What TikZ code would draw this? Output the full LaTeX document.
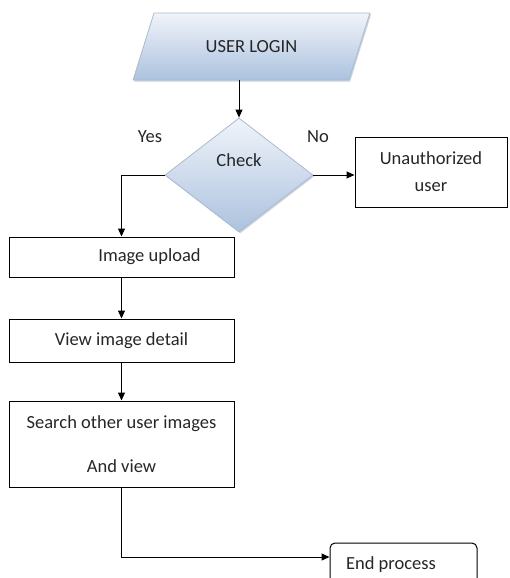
\documentclass[tikz,border=0pt]{standalone}
\usepackage{fontspec}
\setmainfont{Carlito}
\usepackage{tikz}
\usetikzlibrary{shapes.geometric, arrows.meta, shadows}

\definecolor{shadetop}{RGB}{240,244,250}
\definecolor{shadebottom}{RGB}{172,194,222}
\definecolor{shadeline}{RGB}{168,186,210}

\begin{document}
\begin{tikzpicture}[
	x=1pt, y=-1pt,
	font=\fontsize{18.5}{27}\selectfont,
	every node/.style={text=black!85, inner sep=0pt},
	shaded/.style={draw=shadeline, line width=0.8pt, top color=shadetop, bottom color=shadebottom,
		drop shadow={shadow xshift=1.2pt, shadow yshift=-1.5pt, opacity=0.35}},
	box/.style={draw, line width=1pt, minimum width=225pt, align=center},
	edge/.style={draw, line width=1pt, -{Triangle[length=8pt, width=7pt]}}
	]
	
	\clip (0,0) rectangle (510,578);
	
	% Define nodes
	\node (login) [shaded, trapezium, trapezium left angle=51, trapezium right angle=129, trapezium stretches=true,
		minimum width=237pt, minimum height=67pt] at (251.5,46.5) {USER LOGIN};
	\node (check) [shaded, diamond, minimum width=148pt, minimum height=114pt,
		label={[yshift=15pt]center:Check}] at (239,175) {};
	\node (yes) at (150,137) {Yes};
	\node (no) at (318,137) {No};
	\node (unauth) [box, minimum width=152pt, minimum height=70pt] at (431,172) {Unauthorized\\user};
	\node (upload) [box, minimum height=40pt] at (121.5,257) {\hspace*{56pt}Image upload};
	\node (detail) [box, minimum height=43pt] at (121.5,340.5) {View image detail};
	\node (search) [box, minimum height=86pt, font=\fontsize{18.5}{44}\selectfont] at (121.5,444) {Search other user images\\And view};
	\node (endp) [draw, line width=1pt, rounded corners=5pt, minimum width=147pt, minimum height=43pt] at (403.5,564.5) {End process\hspace*{25pt}};
	
	% Draw edges
	\path [edge] (check.north |- login.south) -- (check.north);
	\path [edge] (check.east) -- (check.east -| unauth.west);
	\path [edge] (check.west) -| (upload.north);
	\path [edge] (upload) -- (detail);
	\path [edge] (detail) -- (search);
	\path [edge] (search.south) |- ([yshift=7.5pt]endp.west);
	
\end{tikzpicture}
\end{document}
